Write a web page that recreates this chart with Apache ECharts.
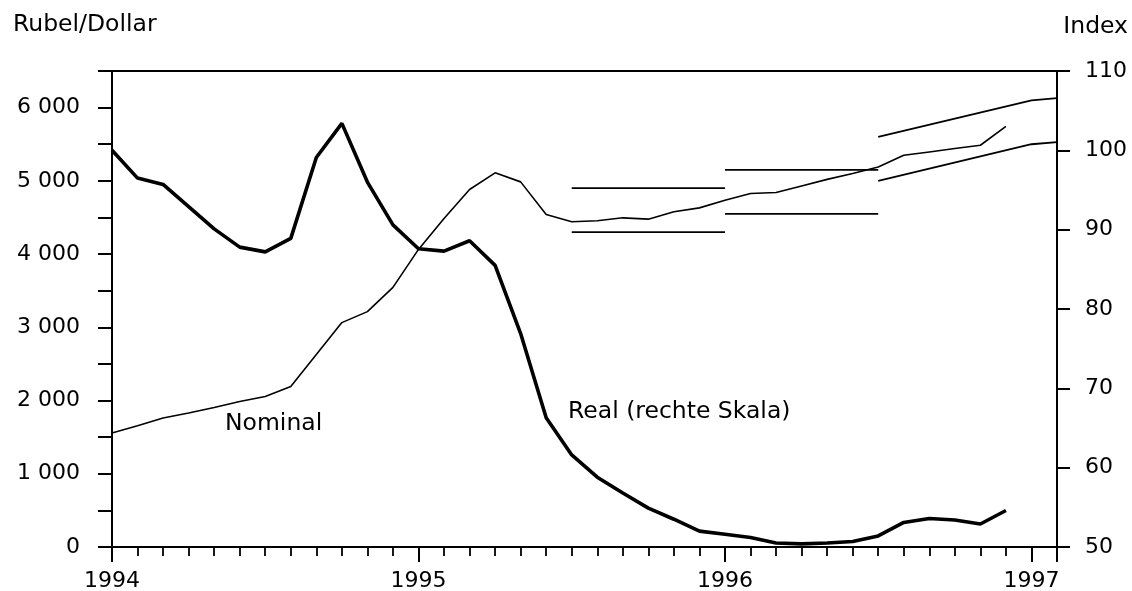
<!DOCTYPE html>
<html>
<head>
<meta charset="utf-8">
<script src="https://cdn.jsdelivr.net/npm/echarts@6/dist/echarts.min.js"></script>
<style>
html,body{margin:0;padding:0;background:#fff;}
#chart{width:1132px;height:591px;}
</style>
</head>
<body>
<div id="chart"></div>
<script>
// Monate ab Januar 1994 (0 = Jan 1994)
var years = ['1994', '1995', '1996', '1997'];

// Nominal, Rubel je Dollar (linke Skala), Jan 1994 - Dez 1996
var nominal = [1556, 1656, 1761, 1829, 1905, 1987, 2055, 2192, 2628, 3064, 3214, 3546,
	4064, 4487, 4882, 5109, 4986, 4541, 4441, 4455, 4495, 4477, 4577, 4631,
	4736, 4828, 4841, 4930, 5020, 5100, 5190, 5350, 5395, 5441, 5486, 5745];

// Real, Index (rechte Skala), Jan 1994 - Dez 1996
var real = [100.0, 96.5, 95.7, 92.9, 90.1, 87.8, 87.2, 88.9, 99.1, 103.4, 96.0, 90.6,
	87.6, 87.3, 88.6, 85.5, 76.9, 66.3, 61.6, 58.8, 56.8, 54.9, 53.5, 52.0,
	51.6, 51.2, 50.5, 50.4, 50.5, 50.7, 51.4, 53.1, 53.6, 53.4, 52.9, 54.6];

// Wechselkurskorridor: [Monat, Rubel/Dollar]
var band1Upper = [[18, 4900], [24, 4900]];
var band1Lower = [[18, 4300], [24, 4300]];
var band2Upper = [[24, 5150], [30, 5150]];
var band2Lower = [[24, 4550], [30, 4550]];
var band3Upper = [[30, 5600], [36, 6100], [37, 6130]];
var band3Lower = [[30, 5000], [36, 5500], [37, 5530]];

var font = 'DejaVu Sans';
var textFont = '23.5px "DejaVu Sans"';

function toPairs(arr) {
	var out = [];
	for (var i = 0; i < arr.length; i++) out.push([i, arr[i]]);
	return out;
}

function bandSeries(data) {
	return {
		type: 'line', xAxisIndex: 0, yAxisIndex: 0, data: data,
		symbol: 'none', silent: true,
		lineStyle: {color: '#000', width: 1.8}
	};
}

var chart = echarts.init(document.getElementById('chart'));

var axisLineStyle = {color: '#000', width: 2};

chart.setOption({
	animation: false,
	backgroundColor: '#fff',
	grid: {left: 112, right: 75, top: 71, bottom: 44, containLabel: false, outerBoundsMode: 'none'},
	xAxis: [{
		// Monatsstriche
		type: 'value', position: 'bottom', min: 0, max: 37, interval: 1,
		axisLine: {show: true, onZero: false, lineStyle: axisLineStyle},
		axisTick: {show: true, inside: false, length: 9, lineStyle: {color: '#000', width: 1.8}},
		axisLabel: {show: false},
		splitLine: {show: false}
	}, {
		// Jahresstriche + Beschriftung
		type: 'value', position: 'bottom', min: 0, max: 37, interval: 12,
		axisLine: {show: false, onZero: false},
		axisTick: {show: true, inside: false, length: 15, lineStyle: {color: '#000', width: 2}},
		axisLabel: {
			show: true, margin: 23, color: '#000', fontFamily: font, fontSize: 22,
			formatter: function (v) {
				return v % 12 === 0 ? years[v / 12] : '';
			}
		},
		splitLine: {show: false}
	}, {
		// oberer Rahmen
		type: 'value', position: 'top', min: 0, max: 37,
		axisLine: {show: true, onZero: false, lineStyle: axisLineStyle},
		axisTick: {show: false}, axisLabel: {show: false}, splitLine: {show: false}
	}],
	yAxis: [{
		type: 'value', position: 'left', min: 0, max: 6500, interval: 500,
		axisLine: {show: true, onZero: false, lineStyle: axisLineStyle},
		axisTick: {show: true, inside: false, length: 14, lineStyle: {color: '#000', width: 2}},
		axisLabel: {
			show: true, margin: 32, color: '#000', fontFamily: font, fontSize: 22,
			formatter: function (v) {
				if (v % 1000 !== 0) return '';
				return v === 0 ? '0' : (v / 1000) + ' 000';
			}
		},
		splitLine: {show: false}
	}, {
		type: 'value', position: 'right', min: 50, max: 110, interval: 10,
		axisLine: {show: true, onZero: false, lineStyle: axisLineStyle},
		axisTick: {show: true, inside: false, length: 13, lineStyle: {color: '#000', width: 2}},
		axisLabel: {show: true, margin: 28, color: '#000', fontFamily: font, fontSize: 22},
		splitLine: {show: false}
	}],
	graphic: [
		{type: 'text', left: 13, top: 13, style: {text: 'Rubel/Dollar', fill: '#000', font: textFont}},
		{type: 'text', right: 4, top: 15, style: {text: 'Index', fill: '#000', font: textFont}},
		{type: 'text', left: 225, top: 412, style: {text: 'Nominal', fill: '#000', font: textFont}},
		{type: 'text', left: 568, top: 400, style: {text: 'Real (rechte Skala)', fill: '#000', font: textFont}}
	],
	series: [
		{
			name: 'Nominal', type: 'line', xAxisIndex: 0, yAxisIndex: 0,
			data: toPairs(nominal), symbol: 'none',
			lineStyle: {color: '#000', width: 1.6}
		},
		{
			name: 'Real (rechte Skala)', type: 'line', xAxisIndex: 0, yAxisIndex: 1,
			data: toPairs(real), symbol: 'none',
			lineStyle: {color: '#000', width: 3.6}
		},
		bandSeries(band1Upper),
		bandSeries(band1Lower),
		bandSeries(band2Upper),
		bandSeries(band2Lower),
		bandSeries(band3Upper),
		bandSeries(band3Lower)
	]
});
</script>
</body>
</html>
